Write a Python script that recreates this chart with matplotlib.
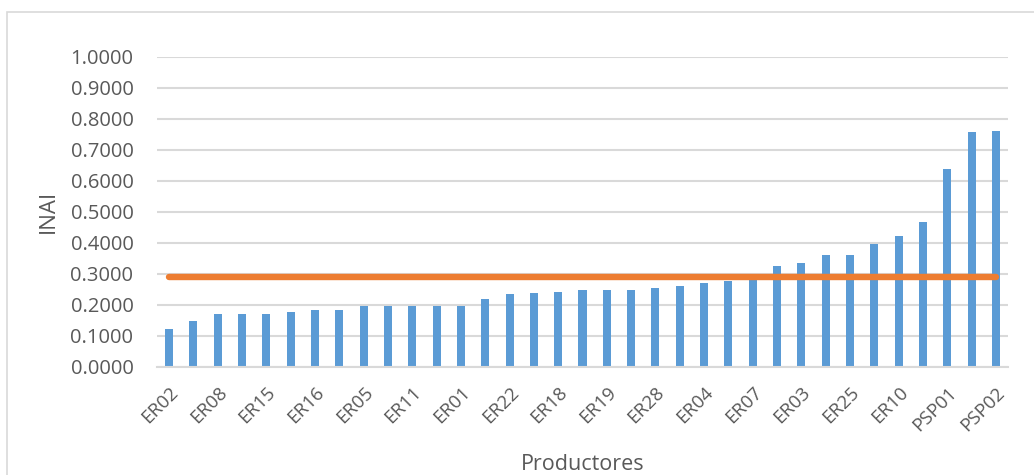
import matplotlib
matplotlib.use("Agg")
import matplotlib.pyplot as plt
from matplotlib.patches import Rectangle
import numpy as np

# Data
inai_values = [0.123, 0.148, 0.171, 0.171, 0.171, 0.176, 0.183, 0.183, 0.196, 0.196,
               0.196, 0.196, 0.196, 0.219, 0.235, 0.238, 0.242, 0.247, 0.247, 0.247,
               0.254, 0.262, 0.270, 0.277, 0.284, 0.325, 0.335, 0.360, 0.360, 0.395,
               0.421, 0.466, 0.639, 0.757, 0.761]
shown_labels = ["ER02", "ER08", "ER15", "ER16", "ER05", "ER11", "ER01", "ER22", "ER18",
                "ER19", "ER28", "ER04", "ER07", "ER03", "ER25", "ER10", "PSP01", "PSP02"]
threshold = 0.29
y_ticks = [0.0, 0.1, 0.2, 0.3, 0.4, 0.5, 0.6, 0.7, 0.8, 0.9, 1.0]

plt.rcParams['font.family'] = ['Open Sans', 'DejaVu Sans']
text_color = '#595959'
grid_color = '#D9D9D9'

fig = plt.figure(figsize=(10.34, 4.75), dpi=100)
ax = fig.add_axes([157/1034, 1 - 366.7/475, (1008 - 157)/1034, (366.7 - 57)/475])

x = np.arange(len(inai_values))
ax.bar(x, inai_values, width=0.33, color='#5B9BD5', zorder=2)
ax.plot([x[0], x[-1]], [threshold, threshold], color='#ED7D31', lw=4.6,
        solid_capstyle='round', zorder=3)

ax.set_xlim(-0.5, len(inai_values) - 0.5)
ax.set_ylim(0, 1.0)
ax.set_yticks(y_ticks)
ax.set_yticklabels([f"{v:.4f}" for v in y_ticks])
ax.yaxis.grid(True, color=grid_color, lw=1.5, zorder=0)
ax.set_axisbelow(True)

ax.set_xticks(x[::2])
ax.set_xticklabels(shown_labels, rotation=45, ha='right', va='top',
                   rotation_mode='anchor', fontsize=13.5, color=text_color)
ax.tick_params(axis='x', length=0, pad=12)
ax.tick_params(axis='y', length=0, pad=17, labelsize=14.5, labelcolor=text_color)

for s in ['top', 'right', 'left']:
    ax.spines[s].set_visible(False)
ax.spines['bottom'].set_color(grid_color)
ax.spines['bottom'].set_linewidth(1.5)

ax.set_ylabel("INAI", fontsize=16, color=text_color, labelpad=8)
ax.set_xlabel("Productores", fontsize=15.5, color=text_color, labelpad=14)

# outer chart border
fig.patches.append(Rectangle((7/1034, -0.1), 1.2, 1 - 12/475 + 0.1,
                             transform=fig.transFigure, fill=False,
                             edgecolor='#D9D9D9', lw=1.2))

fig.savefig("out.png", dpi=100)
